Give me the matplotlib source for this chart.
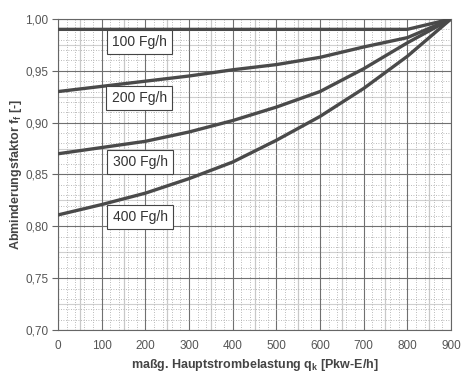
import numpy as np
import matplotlib.pyplot as plt
from matplotlib.ticker import MultipleLocator

plt.rcParams['font.family'] = ['Liberation Sans', 'DejaVu Sans']
plt.rcParams['mathtext.fontset'] = 'custom'
plt.rcParams['mathtext.rm'] = 'Liberation Sans'
plt.rcParams['mathtext.bf'] = 'Liberation Sans:bold'

# Hauptstrombelastung [Pkw-E/h]
q = [0, 100, 200, 300, 400, 500, 600, 700, 800, 900]

# Abminderungsfaktor je Fussgaengerstaerke
f_100 = [0.990, 0.990, 0.990, 0.990, 0.990, 0.990, 0.990, 0.990, 0.990, 1.000]
f_200 = [0.930, 0.935, 0.940, 0.945, 0.951, 0.956, 0.963, 0.973, 0.982, 1.000]
f_300 = [0.870, 0.876, 0.882, 0.891, 0.902, 0.915, 0.930, 0.952, 0.977, 1.000]
f_400 = [0.811, 0.821, 0.832, 0.846, 0.862, 0.883, 0.906, 0.933, 0.964, 1.000]

labels = ['100 Fg/h', '200 Fg/h', '300 Fg/h', '400 Fg/h']
label_x = [186, 186, 188, 188]
label_y = [0.978, 0.924, 0.862, 0.809]

xticks = [0, 100, 200, 300, 400, 500, 600, 700, 800, 900]
yticks = [0.70, 0.75, 0.80, 0.85, 0.90, 0.95, 1.00]
yticklabels = ['0,70', '0,75', '0,80', '0,85', '0,90', '0,95', '1,00']

fig = plt.figure(figsize=(4.72, 3.82), dpi=100)
ax = fig.add_axes([0.1229, 0.1361, 0.8326, 0.8142])

ax.set_xlim(0, 900)
ax.set_ylim(0.70, 1.00)

# grid: fine dotted, medium light, major solid
ax.xaxis.set_minor_locator(MultipleLocator(20))
ax.yaxis.set_minor_locator(MultipleLocator(0.01))
ax.grid(which='minor', color='#a5a5a5', linestyle=(0, (1, 2)), linewidth=0.6)
for xv in np.arange(50, 900, 100):
    ax.axvline(xv, color='#c8c8c8', linewidth=0.9, zorder=0.5)
for yv in np.arange(0.725, 1.0, 0.05):
    ax.axhline(yv, color='#d0d0d0', linewidth=0.8, zorder=0.5)
ax.grid(which='major', color='#707070', linestyle='-', linewidth=0.8)
ax.set_axisbelow(True)

for f in [f_100, f_200, f_300, f_400]:
    ax.plot(q, f, color='#4a4a4a', linewidth=2.4, solid_capstyle='round', zorder=3)

for t, lx, ly in zip(labels, label_x, label_y):
    ax.text(lx, ly, t, ha='center', va='center', fontsize=10, color='#333333', zorder=4,
            bbox=dict(boxstyle='square,pad=0.38', facecolor='white', edgecolor='#444444', linewidth=0.8))

ax.set_xticks(xticks)
ax.set_yticks(yticks)
ax.set_yticklabels(yticklabels)
ax.tick_params(axis='both', which='major', labelsize=8.5, labelcolor='#555555', color='#666666')
ax.tick_params(axis='x', which='major', length=0, pad=7)
ax.tick_params(axis='y', which='major', length=4, width=0.8, pad=3)
ax.tick_params(which='minor', length=0)

for s in ax.spines.values():
    s.set_color('#666666')
    s.set_linewidth(0.8)

ax.set_xlabel(r'maßg. Hauptstrombelastung $\mathbf{q_k}$ [Pkw-E/h]', fontsize=9,
              fontweight='bold', color='#444444', labelpad=4)
ax.set_ylabel(r'Abminderungsfaktor $\mathbf{f_f}$ [-]', fontsize=9,
              fontweight='bold', color='#444444', labelpad=0.5)

fig.savefig('out.png', dpi=100, facecolor='white')
